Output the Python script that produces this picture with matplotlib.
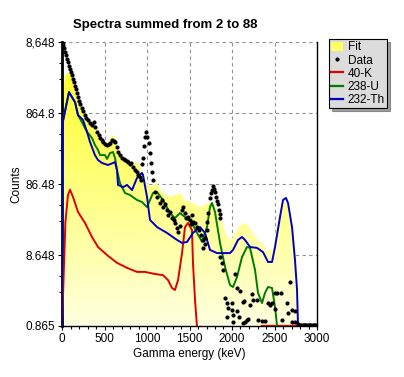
import numpy as np
import matplotlib
matplotlib.use("Agg")
import matplotlib.pyplot as plt
from matplotlib.patches import Patch
from matplotlib.lines import Line2D

plt.rcParams['font.family'] = ['Liberation Sans', 'DejaVu Sans']

# energies (keV) and counts
fit_e = [0, 8, 40, 94, 118, 153, 212, 271, 306, 365, 424, 482, 541, 588, 624, 659, 741,
         824, 894, 918, 953, 1035, 1118, 1176, 1271, 1388, 1447, 1541, 1624, 1741, 1776,
         1859, 1918, 1976, 2012, 2071, 2129, 2188, 2247, 2329, 2388, 2412, 2482, 2541,
         2600, 2659, 2718, 2765, 2776, 2800, 3000]
fit_c = [0.9, 1500, 3000, 3170, 2690, 1710, 1235, 890, 690, 625, 467, 337, 306, 424, 384,
         260, 201, 171, 171, 145, 108, 78, 89, 65, 57, 65, 51.5, 46.7, 41, 48, 48,
         31.7, 18.2, 14.1, 15.5, 20.8, 24.4, 22.9, 17.7, 13.2, 12.0, 10.2, 10.2, 29.7,
         51.5, 41, 17.7, 5.9, 0.95, 0.3, 0.3]

k40_e = [0, 15, 40, 70, 94, 129, 188, 271, 353, 424, 529, 647, 765, 882, 976, 1094, 1188,
         1247, 1294, 1329, 1365, 1412, 1447, 1482, 1529, 1541, 1565, 1588, 1620, 2340,
         2350, 3000]
k40_c = [0.9, 3, 25, 60, 72, 57, 35, 24.4, 15.5, 11.2, 8.65, 6.7, 5.7, 5.0, 5.0, 4.67, 4.5,
         3.84, 2.97, 2.78, 3.84, 9.2, 21.4, 24.4, 19.5, 6.7, 2.0, 0.85, 0.3, np.nan,
         0.87, 0.87]

u238_e = [0, 10, 82, 153, 188, 247, 294, 353, 388, 424, 447, 506, 529, 565, 600, 624, 647,
          682, 741, 800, 882, 941, 1000, 1071, 1118, 1188, 1271, 1329, 1388, 1447, 1529,
          1588, 1624, 1647, 1706, 1741, 1765, 1800, 1859, 1918, 1976, 2012, 2059, 2118,
          2176, 2212, 2271, 2306, 2353, 2388, 2424, 2471, 2506, 2529, 2560]
u238_c = [0.9, 650, 1700, 1230, 810, 600, 470, 384, 306, 260, 221, 221, 195, 236, 244, 201,
          136, 89, 64.6, 60.5, 51.5, 48.2, 41, 64.6, 66.7, 51.5, 33.7, 28.7, 33.7, 29.7,
          24.4, 17.7, 15.0, 13.2, 21.4, 41, 46.7, 34.9, 12.8, 5.87, 3.27, 3.06, 4.24, 8.1,
          11.2, 10.9, 5.32, 2.53, 1.82, 2.53, 3.06, 2.97, 1.60, 0.89, 0.3]

th232_e = [0, 10, 82, 153, 188, 247, 294, 329, 388, 424, 471, 541, 600, 624, 647, 659, 718,
           765, 824, 882, 941, 953, 1000, 1035, 1118, 1235, 1353, 1412, 1471, 1541, 1624,
           1682, 1741, 1824, 1976, 2012, 2071, 2118, 2153, 2212, 2294, 2365, 2424, 2471,
           2506, 2565, 2600, 2635, 2659, 2706, 2741, 2765, 2776, 2800]
th232_c = [0.9, 650, 1700, 1230, 810, 690, 470, 340, 220, 188, 171, 160, 171, 176, 136, 84,
           78, 84, 71, 105, 124, 116, 57, 27, 21.4, 17.7, 14.1, 12.8, 13.2, 17.7, 21.4,
           17.7, 10.2, 9.2, 9.2, 10.2, 14.1, 15.5, 14.1, 11.2, 10.9, 9.5, 6.9, 6.9,
           11.2, 29.7, 51.5, 55, 46.7, 21.4, 7.35, 2.8, 0.95, 0.3]

data_e = [10, 15, 25, 35, 47, 59, 71, 82, 94, 106, 118, 129, 141, 153, 165, 176, 188, 200,
          212, 235, 247, 271, 282, 306, 329, 353, 376, 388, 412, 435, 447, 471, 482, 506,
          529, 553, 565, 588, 612, 624, 647, 659, 682, 706, 729, 741, 765, 776, 800, 812,
          835, 859, 882, 894, 918, 929, 940, 950, 962, 975, 990, 1005, 1020, 1035, 1045,
          1055, 1065, 1094, 1118, 1153, 1176, 1188, 1212, 1235, 1247, 1271, 1294, 1318,
          1329, 1353, 1365, 1388, 1412, 1424, 1447, 1459, 1482, 1506, 1518, 1529, 1541,
          1565, 1588, 1612, 1635, 1659, 1659, 1682, 1682, 1706, 1706, 1718, 1741, 1753,
          1765, 1776, 1788, 1800, 1812, 1824, 1835, 1847, 1859, 1859, 1859, 1882, 1894,
          1918, 1941, 1953, 1941, 2000, 2000, 2012, 2012, 2035, 2059, 2059, 2082, 2094,
          2129, 2141, 2153, 2176, 2188, 2212, 2235, 2247, 2294, 2306, 2353, 2388, 2424,
          2447, 2471, 2506, 2506, 2529, 2576, 2588, 2647, 2659, 2682, 2706, 2706, 2741,
          2741, 2129, 2780, 2800, 2815, 2830, 2845, 2860, 2875, 2890, 2905, 2920, 2935,
          2950, 2965, 2980, 2995]
data_c = [8650, 7850, 7120, 6250, 5670, 4980, 4520, 3970, 3600, 3270, 2960, 2600, 2360,
          2080, 1880, 1660, 1450, 1280, 1160, 1020, 920, 810, 735, 690, 625, 586, 646, 549,
          467, 424, 384, 360, 337, 317, 306, 317, 327, 360, 349, 337, 287, 244, 221, 201,
          195, 188, 182, 176, 165, 171, 150, 136, 128, 116, 108, 98.5, 165, 200, 300, 397,
          467, 400, 330, 236, 171, 128, 98.5, 66.7, 56.7, 46.7, 51.5, 41, 45, 37.2, 31.7,
          35, 28.7, 26.9, 24.4, 20.8, 18.2, 22.1, 37.2, 41, 33.7, 28.7, 29.7, 26.9, 23.6,
          31.7, 25.3, 24.4, 21.4, 19.5, 16.5, 14.1, 10.9, 15.0, 12.3, 19.5, 25.3, 33.7,
          54.9, 64.6, 71.2, 81, 73.5, 66.7, 56.7, 49.8, 45, 37.2, 32.7, 28.7, 8.1, 6.7,
          5.32, 2.15, 1.82, 1.55, 1.16, 1.82, 1.45, 1.24, 0.985, 4.67, 2.97, 1.41, 1.16,
          2.69, 1.88, 1.95, 0.985, 1.05, 1.09, 1.71, 2.44, 2.01, 2.01, 1.05, 1.02, 1.02,
          1.82, 1.71, 1.82, 2.53, 1.50, 2.53, 2.53, 1.05, 1.82, 1.32, 3.6, 1.45, 0.985,
          1.41, 0.985, 0.95, 0.92, 0.9, 0.9, 0.9, 0.9, 0.9, 0.9, 0.9, 0.9, 0.9, 0.9,
          0.9, 0.9, 0.9, 0.9]

y_ticks = [0.865, 8.648, 86.48, 864.8, 8648]
y_labels = ['0.865', '8.648', '86.48', '864.8', '8,648']

fig = plt.figure(figsize=(4.04, 3.77), dpi=100)
ax = fig.add_axes([62 / 404, 51 / 377, 255 / 404, 284 / 377])
ax.set_yscale('log')
ax.set_xlim(0, 3000)
ax.set_ylim(0.865, 8648)

# yellow fit area with a vertical gradient
poly = ax.fill_between(fit_e, 0.1, fit_c, facecolor='none', edgecolor='none', zorder=1)
grad = np.linspace(0, 1, 256)[:, None]
img = np.zeros((256, 1, 3))
img[:, :, 0] = 1.0
img[:, :, 1] = 1.0
img[:, :, 2] = 0.1 + 0.78 * grad
im = ax.imshow(img, extent=(0, 1, 0, 1), transform=ax.transAxes, aspect='auto',
               zorder=1, interpolation='bilinear')
im.set_clip_path(poly.get_paths()[0], transform=ax.transData)

ax.plot(k40_e, k40_c, color='#e00000', lw=1.4, zorder=3)
ax.plot(u238_e, u238_c, color='#007a00', lw=1.4, zorder=3)
ax.plot(th232_e, th232_c, color='#0000c0', lw=1.4, zorder=4)
ax.plot(data_e, data_c, 'o', color='black', ms=3.0, mew=0, zorder=5)

ax.set_xticks([0, 500, 1000, 1500, 2000, 2500, 3000])
ax.set_xticks(np.arange(0, 3001, 100), minor=True)
ax.set_yticks(y_ticks)
ax.set_yticklabels(y_labels)
minor_y = []
for b in y_ticks[:-1]:
    minor_y += [b * 3, b * 5]
ax.set_yticks(minor_y, minor=True)
ax.yaxis.set_minor_formatter(plt.NullFormatter())
ax.tick_params(labelsize=8.5, length=3, width=0.8, pad=2)
ax.tick_params(which='minor', length=2, width=0.8)

ax.grid(True, which='major', color='#909090', ls=(0, (3, 3)), lw=0.8)
ax.set_axisbelow(True)
ax.spines['top'].set_visible(False)
ax.spines['left'].set_linewidth(2.0)
ax.spines['right'].set_linewidth(1.0)
ax.spines['bottom'].set_linewidth(1.0)

ax.set_xlabel('Gamma energy (keV)', fontsize=8.5, labelpad=2)
ax.set_ylabel('Counts', fontsize=8.5, labelpad=2)
fig.text(165 / 404, 1 - 25 / 377, 'Spectra summed from 2 to 88', ha='center', va='center',
         fontsize=9.5, fontweight='bold')

handles = [Patch(facecolor='#ffff60', edgecolor='none'),
           Line2D([], [], ls='none', marker='o', color='black', ms=3.0, mew=0),
           Line2D([], [], color='#e00000', lw=1.6),
           Line2D([], [], color='#007a00', lw=1.6),
           Line2D([], [], color='#0000c0', lw=1.6)]
leg = fig.legend(handles, ['Fit', 'Data', '40-K', '238-U', '232-Th'],
                 loc='upper left', bbox_to_anchor=(329 / 404, 1 - 39 / 377),
                 fontsize=8.5, frameon=True, fancybox=False, shadow=True,
                 handlelength=1.0, handleheight=0.8, handletextpad=0.4,
                 borderpad=0.2, labelspacing=0.1, borderaxespad=0)
leg.get_frame().set_facecolor('#dcdcdc')
leg.get_frame().set_edgecolor('black')
leg.get_frame().set_linewidth(0.8)

fig.savefig('out.png', dpi=100)
